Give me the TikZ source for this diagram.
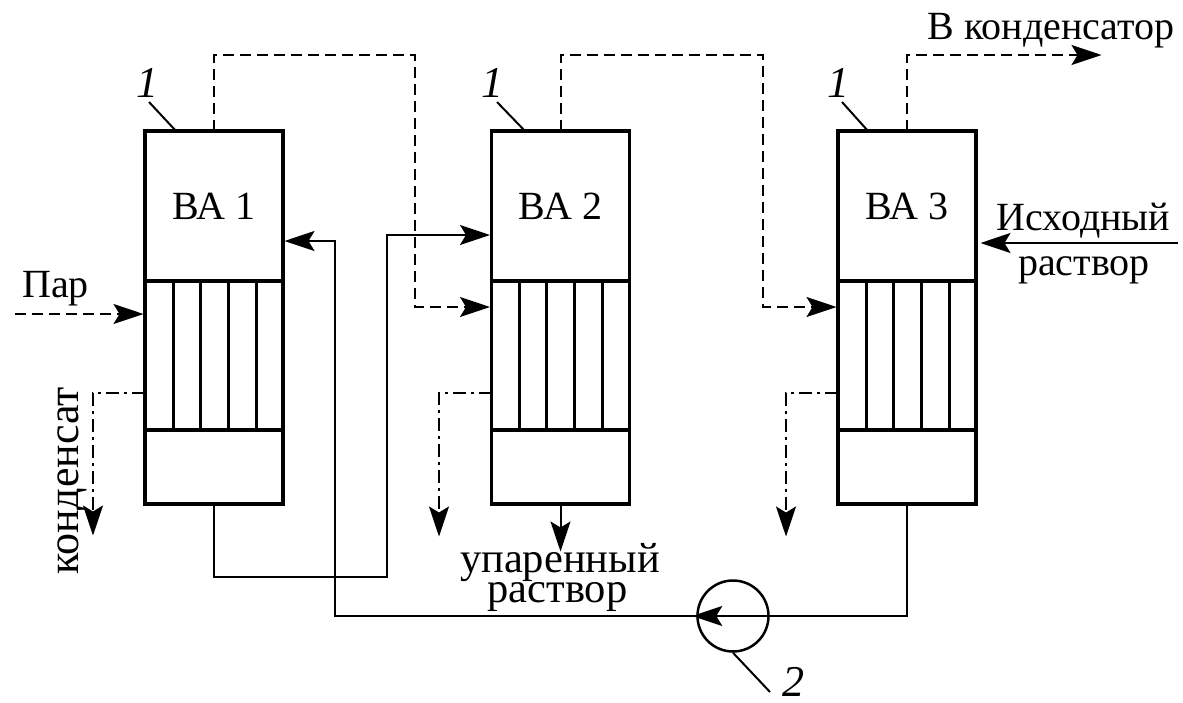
\documentclass[tikz,border=0pt]{standalone}
\usepackage{fontspec}
\setmainfont{Liberation Serif}
\usepackage{tikz}
\usetikzlibrary{shapes, positioning, arrows.meta}

\newcommand{\bigtext}{\fontsize{40}{40}\selectfont}

\begin{document}
\begin{tikzpicture}[x=1pt, y=-1pt, semithick, line width=2pt, >={Stealth[length=30pt, width=20pt, inset=6pt]}, shorten >=1.5pt, node distance = 346.5pt]
\tikzstyle{vessel}=[draw, rectangle, line width=3.5pt, minimum width=138pt, outer sep=0pt, inner sep=0pt, text=black]
\tikzstyle{vapor}=[vessel, minimum height=150pt, font=\bigtext]
\tikzstyle{tubes}=[vessel, minimum height=149pt]
\tikzstyle{sump}=[vessel, minimum height=74pt]
\tikzstyle{caption}=[draw=none, font=\bigtext, inner sep=0pt, anchor=base]
\tikzstyle{itemno}=[draw=none, font=\fontsize{44}{44}\selectfont\itshape, inner sep=0pt]
\tikzstyle{steam}=[->, dash pattern=on 11pt off 6pt]
\tikzstyle{drain}=[->, dash pattern=on 13pt off 5pt on 3pt off 5pt]

\useasboundingbox (0,0) rectangle (1183,702);

% vessels
\node[vapor]                (T1) at (214,206)  {ВА 1};
\node[vapor]                (T2)[right of=T1]  {ВА 2};
\node[vapor]                (T3)[right of=T2]  {ВА 3};
\node[tubes, below=0pt of T1]   (M1) {};
\node[tubes, below=0pt of T2]   (M2) {};
\node[tubes, below=0pt of T3]   (M3) {};
\node[sump, below=0pt of M1]    (B1) {};
\node[sump, below=0pt of M2]    (B2) {};
\node[sump, below=0pt of M3]    (B3) {};

\foreach \i in {1,2,3}
  \foreach \dx in {-41,-14,14,42}
    \draw[line width=3pt] ([xshift=\dx pt]M\i.north) -- ([xshift=\dx pt]M\i.south);

% pump
\node[draw, circle, minimum size=71pt, inner sep=0pt, line width=2.5pt] (P) at (733,616) {};

% free ends
\coordinate (steamIn) at (15,314);
\coordinate (out3)    at (1103,55);
\coordinate (feed)    at (1178,243);
\coordinate (dr1)     at (93,537);
\coordinate (dr2)     at (439,538);
\coordinate (dr3)     at (786,538);
\coordinate (prod)    at (560.5,553);
\coordinate (C1)      at ([yshift=-37pt]M1.west);
\coordinate (C2)      at ([yshift=-37pt]M2.west);
\coordinate (C3)      at ([yshift=-37pt]M3.west);
\coordinate (F1)      at ([yshift=-35pt]T1.east);
\coordinate (F3)      at ([yshift=-37pt, xshift=3pt]T3.east);

% steam lines
\draw[steam] (steamIn) -- (M1.west |- steamIn);
\draw[steam] (T1.north) -- (T1.north |- 0,55) -- (415,55) -- (415,307) -- (M2.west |- 0,307);
\draw[steam] (T2.north) -- (T2.north |- 0,55) -- (763,55) -- (763,307) -- (M3.west |- 0,307);
\draw[steam] (T3.north) -- (T3.north |- out3) -- (out3);

% condensate
\draw[drain] (C1) -- (dr1 |- C1) -- (dr1);
\draw[drain] (C2) -- (dr2 |- C2) -- (dr2);
\draw[drain] (C3) -- (dr3 |- C3) -- (dr3);

% solution
\draw[->] (B1.south) -- (B1.south |- 0,577) -- (387,577) -- (387,235) -- (T2.west |- 0,235);
\draw[->] (B2.south) -- (prod);
\draw[->] (B3.south) -- (B3.south |- P.center) -- (335,616) -- (335,241) -- (F1);
\draw[->] (feed) -- (F3);
\draw[->, shorten >=-4pt] (P.center) -- (P.west);

% numbers
\node[itemno] (N1) at (147,83) {1};
\node[itemno] (N2) at (492,83) {1};
\node[itemno] (N3) at (838,83) {1};
\node[itemno] (N4) at (793,682) {2};
\draw[shorten >=0pt] (N1) ++(2,19) -- (176,131);
\draw[shorten >=0pt] (N2) ++(5,19) -- (525,131);
\draw[shorten >=0pt] (N3) ++(4,19) -- (868,131);
\draw[shorten >=0pt] (P.south) -- (770,692);

% texts
\node[caption] (L1) at (55.5,297)  {Пар};
\node[caption, font=\fontsize{44}{44}\selectfont, rotate=90] (L2) at (78,481) {конденсат};
\node[caption] (L3) at (1051,39)   {В конденсатор};
\node[caption] (L4) at (1083.5,230) {Исходный};
\node[caption] (L5) at (1084,275)  {раствор};
\node[caption, font=\fontsize{42.5}{42.5}\selectfont] (L6) at (560,572)   {упаренный};
\node[caption, font=\fontsize{42.5}{42.5}\selectfont] (L7) at (557.5,602) {раствор};

\end{tikzpicture}
\end{document}
